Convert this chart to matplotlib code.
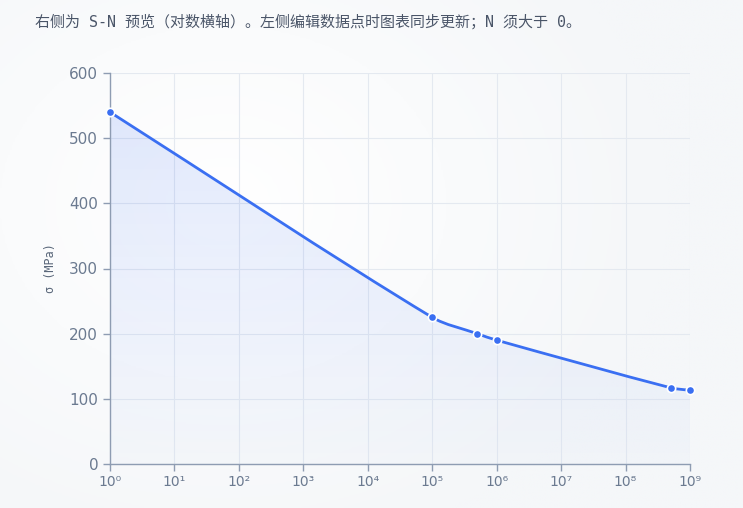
import numpy as np
import matplotlib
matplotlib.use("Agg")
import matplotlib.pyplot as plt
from matplotlib.path import Path
from matplotlib.patches import PathPatch

# S-N 数据点
cycles = [1, 1e5, 5e5, 1e6, 5e8, 1e9]
stress = [540, 225, 200, 190, 117, 113]
y_ticks = [0, 100, 200, 300, 400, 500, 600]
x_decades = list(range(0, 10))
sup = "⁰¹²³⁴⁵⁶⁷⁸⁹"
x_labels = ["10" + sup[d] for d in x_decades]

note = "右侧为 S-N 预览（对数横轴）。左侧编辑数据点时图表同步更新；N 须大于 0。"

bg = "#f5f7f9"
blue = "#3a6ff2"
tick_c = "#6b7a90"
grid_c = "#e4e9f0"
axis_c = "#8e9cb2"

fig = plt.figure(figsize=(7.43, 5.08), dpi=100)
fig.patch.set_facecolor(bg)

# soft white glow behind chart
glow = fig.add_axes([0, 0, 1, 1], zorder=-5)
gx, gy = np.meshgrid(np.linspace(0, 1, 300), np.linspace(0, 1, 200))
r = np.sqrt(((gx - 0.3) / 0.6) ** 2 + ((gy - 0.6) / 0.7) ** 2)
glow.imshow(np.clip(1 - r, 0, 1), cmap=matplotlib.colors.LinearSegmentedColormap.from_list("g", [bg, "#ffffff"]),
            extent=[0, 1, 0, 1], aspect="auto", origin="lower")
glow.axis("off")

fig.text(35 / 743, 1 - 22 / 508, note, fontsize=10.8, color="#4a5568", va="center", ha="left",
         family=["DejaVu Sans Mono", "Noto Sans CJK SC"])

ax = fig.add_axes([110 / 743, 44 / 508, 580 / 743, 391 / 508])
ax.set_facecolor("none")
ax.set_xscale("log")
ax.set_xlim(1, 1e9)
ax.set_ylim(0, 600)

ax.set_xticks([10.0 ** d for d in x_decades])
ax.set_xticklabels(x_labels)
ax.xaxis.set_minor_locator(matplotlib.ticker.NullLocator())
ax.set_yticks(y_ticks)
ax.tick_params(axis="both", colors=axis_c, labelcolor=tick_c, length=5, width=1)
ax.tick_params(axis="y", labelsize=11)
ax.tick_params(axis="x", labelsize=10, pad=3)
ax.grid(True, color=grid_c, lw=0.8)
ax.set_axisbelow(True)
for s in ["top", "right"]:
    ax.spines[s].set_visible(False)
for s in ["left", "bottom"]:
    ax.spines[s].set_color(axis_c)
    ax.spines[s].set_linewidth(1)

ax.set_ylabel("σ (MPa)", fontsize=8.5, color="#5a677a", labelpad=9,
              family=["DejaVu Sans Mono"])

# smooth curve (echarts-like bezier smoothing in pixel-like space)
sx, sy = 580 / 9, 391 / 600
P = np.column_stack([np.log10(cycles) * sx, np.array(stress, dtype=float) * sy])
smooth = 0.3
n = len(P)
cps = []
for i in range(n):
    prev = P[i - 1] if i > 0 else P[i]
    nxt = P[i + 1] if i < n - 1 else P[i]
    v = nxt - prev
    d0 = np.hypot(*(P[i] - prev))
    d1 = np.hypot(*(nxt - P[i]))
    tot = d0 + d1 if d0 + d1 > 0 else 1
    cps.append((P[i] - v * smooth * d0 / tot, P[i] + v * smooth * d1 / tot))
verts = [P[0]]
codes = [Path.MOVETO]
for i in range(n - 1):
    verts += [cps[i][1], cps[i + 1][0], P[i + 1]]
    codes += [Path.CURVE4] * 3
verts = np.array(verts)
verts_data = np.column_stack([10 ** (verts[:, 0] / sx), verts[:, 1] / sy])

line_path = Path(verts_data, codes)
ax.add_patch(PathPatch(line_path, fill=False, edgecolor=blue, lw=2, zorder=3, clip_on=False,
                       capstyle="round", joinstyle="round"))

# area fill under the curve with vertical fade
area_v = np.vstack([verts_data, [[cycles[-1], 0], [cycles[0], 0], verts_data[0]]])
area_c = codes + [Path.LINETO, Path.LINETO, Path.CLOSEPOLY]
area = PathPatch(Path(area_v, area_c), facecolor="none", edgecolor="none")
ax.add_patch(area)
grad = np.linspace(0, 1, 256).reshape(-1, 1)
cmap = matplotlib.colors.LinearSegmentedColormap.from_list(
    "fade", [(0.23, 0.43, 0.95, 0.02), (0.23, 0.43, 0.95, 0.16)])
im = ax.imshow(grad, cmap=cmap, extent=[1, 1e9, 0, 600], origin="lower", aspect="auto", zorder=1)
im.set_clip_path(area)

ax.plot(cycles, stress, "o", color=blue, ms=6, mec="white", mew=1.2, zorder=4, clip_on=False)

fig.savefig("out.png", dpi=100, facecolor=fig.get_facecolor())
